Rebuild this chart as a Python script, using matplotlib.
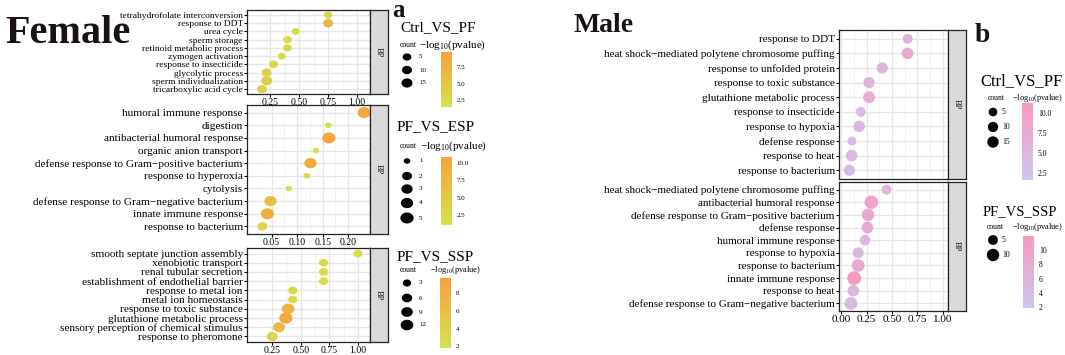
import numpy as np
import matplotlib.pyplot as plt
from matplotlib.colors import LinearSegmentedColormap, Normalize
from matplotlib.cm import ScalarMappable
from matplotlib.path import Path

plt.rcParams['font.family'] = ['Liberation Serif', 'DejaVu Serif']
plt.rcParams['mathtext.fontset'] = 'custom'
plt.rcParams['mathtext.rm'] = 'Liberation Serif'
plt.rcParams['axes.unicode_minus'] = True

W, H = 1065, 355

# ---------------- Female: Ctrl_VS_PF ----------------
f1_terms = ['tetrahydrofolate interconversion', 'response to DDT', 'urea cycle',
            'sperm storage', 'retinoid metabolic process', 'zymogen activation',
            'response to insecticide', 'glycolytic process',
            'sperm individualization', 'tricarboxylic acid cycle']
f1_ratio = [0.75, 0.75, 0.47, 0.40, 0.40, 0.35, 0.28, 0.22, 0.22, 0.18]
f1_count = [4, 10, 3, 5, 5, 3, 6, 10, 15, 9]
f1_logp = [2.5, 7.5, 2.5, 3.0, 3.0, 2.5, 3.0, 3.5, 4.0, 3.0]

# ---------------- Female: PF_VS_ESP ----------------
f2_terms = ['humoral immune response', 'digestion', 'antibacterial humoral response',
            'organic anion transport', 'defense response to Gram\u2212positive bacterium',
            'response to hyperoxia', 'cytolysis',
            'defense response to Gram\u2212negative bacterium', 'innate immune response',
            'response to bacterium']
f2_ratio = [0.231, 0.161, 0.162, 0.137, 0.126, 0.119, 0.084, 0.048, 0.042, 0.032]
f2_count = [5, 1, 5, 1, 4, 1, 1, 4, 5, 2]
f2_logp = [10.0, 2.0, 10.0, 2.0, 9.0, 2.0, 2.0, 6.5, 9.0, 3.5]

# ---------------- Female: PF_VS_SSP ----------------
f3_terms = ['smooth septate junction assembly', 'xenobiotic transport',
            'renal tubular secretion', 'establishment of endothelial barrier',
            'response to metal ion', 'metal ion homeostasis', 'response to toxic substance',
            'glutathione metabolic process', 'sensory perception of chemical stimulus',
            'response to pheromone']
f3_ratio = [1.0, 0.7, 0.7, 0.7, 0.43, 0.43, 0.39, 0.37, 0.31, 0.25]
f3_count = [4, 4, 4, 4, 4, 4, 12, 14, 10, 7]
f3_logp = [2.5, 3.0, 3.0, 3.0, 3.0, 3.0, 7.5, 9.0, 7.0, 3.5]

# ---------------- Male: Ctrl_VS_PF ----------------
m1_terms = ['response to DDT', 'heat shock\u2212mediated polytene chromosome puffing',
            'response to unfolded protein', 'response to toxic substance',
            'glutathione metabolic process', 'response to insecticide',
            'response to hypoxia', 'defense response', 'response to heat',
            'response to bacterium']
m1_ratio = [0.654, 0.654, 0.405, 0.275, 0.275, 0.194, 0.178, 0.107, 0.104, 0.081]
m1_count = [9, 16, 14, 14, 17, 9, 16, 6, 16, 14]
m1_logp = [6.0, 8.0, 5.5, 5.5, 7.0, 4.0, 5.0, 4.0, 4.5, 3.5]

# ---------------- Male: PF_VS_SSP ----------------
m2_terms = ['heat shock\u2212mediated polytene chromosome puffing',
            'antibacterial humoral response',
            'defense response to Gram\u2212positive bacterium', 'defense response',
            'humoral immune response', 'response to hypoxia', 'response to bacterium',
            'innate immune response', 'response to heat',
            'defense response to Gram\u2212negative bacterium']
m2_ratio = [0.447, 0.298, 0.265, 0.259, 0.236, 0.168, 0.168, 0.129, 0.120, 0.097]
m2_count = [5, 13, 10, 8, 6, 7, 11, 14, 8, 11]
m2_logp = [5.5, 10.0, 9.0, 8.5, 6.0, 5.0, 8.0, 11.5, 5.0, 4.0]

female_cmap = LinearSegmentedColormap.from_list('fem', ['#d4e24c', '#f9a13e'])
male_cmap = LinearSegmentedColormap.from_list('male', ['#cec4ee', '#f79ac1'])

# ellipse marker: the female half of the figure is stretched horizontally
t = np.linspace(0, 2 * np.pi, 60)
ell = Path(np.column_stack([1.2 * np.cos(t), np.sin(t)]), closed=True)


def px_axes(fig, left, top, right, bottom):
    return fig.add_axes([left / W, 1 - bottom / H, (right - left) / W, (bottom - top) / H])


def diam(count, lo, hi, k):
    c = np.clip((np.asarray(count, float) - lo) / (hi - lo), 0, None)
    return k * (3 + 3 * np.sqrt(c)) * 0.72   # points


def dot_panel(fig, box, terms, ratio, count, logp, xlim, xticks, xlabels,
              cmap, norm, scale, marker, lab_size, tick_size, show_x=True, strip_w=18):
    left, top, right, bottom = box
    ax = px_axes(fig, left, top, right, bottom)
    n = len(terms)
    y = np.arange(n)[::-1]
    ax.scatter(ratio, y, s=diam(count, *scale) ** 2, c=logp, cmap=cmap, norm=norm,
               marker=marker, linewidths=0, zorder=3)
    ax.set_ylim(-0.6, n - 0.4)
    ax.set_xlim(xlim)
    ax.set_yticks(y, terms, fontsize=lab_size)
    ax.set_xticks(xticks, xlabels, fontsize=tick_size)
    ax.set_xticks([(a + b) / 2 for a, b in zip(xticks[:-1], xticks[1:])], minor=True)
    ax.grid(which='major', color='#e6e6e6', lw=0.9)
    ax.grid(which='minor', axis='x', color='#efefef', lw=0.6)
    ax.set_axisbelow(True)
    ax.tick_params(length=2, width=0.8, pad=1, colors='black')
    ax.tick_params(which='minor', length=0)
    if not show_x:
        ax.tick_params(axis='x', length=0, labelbottom=False)
    for sp in ax.spines.values():
        sp.set_color('#222222')
        sp.set_linewidth(0.9)
    strip = px_axes(fig, right, top, right + strip_w, bottom)
    strip.set_facecolor('#d9d9d9')
    strip.set_xticks([])
    strip.set_yticks([])
    for sp in strip.spines.values():
        sp.set_color('#222222')
        sp.set_linewidth(0.9)
    strip.text(0.5, 0.5, 'BP', rotation=-90, ha='center', va='center',
               fontsize=6, color='#1a1a1a', transform=strip.transAxes)
    return ax


def size_legend(ov, breaks, cx, ys, lx, scale, marker, fs):
    ov.scatter([cx] * len(breaks), ys, s=diam(breaks, *scale) ** 2, c='black',
               marker=marker, linewidths=0)
    for b, yy in zip(breaks, ys):
        ov.text(lx, yy, str(b), fontsize=fs, va='center', ha='left')


def color_legend(fig, box, cmap, norm, ticks, labels, fs):
    cax = px_axes(fig, *box)
    cb = fig.colorbar(ScalarMappable(norm=norm, cmap=cmap), cax=cax)
    cb.outline.set_visible(False)
    cb.set_ticks(ticks, labels=labels)
    cax.tick_params(length=2, width=0.6, color='white', labelsize=fs, pad=1.5)
    return cb


fig = plt.figure(figsize=(W / 100, H / 100), dpi=100)
ov = fig.add_axes([0, 0, 1, 1])
ov.set_xlim(0, W)
ov.set_ylim(H, 0)
ov.axis('off')
ov.set_zorder(5)

# norms follow the colour bars in the picture
nf1 = Normalize(1.45, 9.8)
nf2 = Normalize(1.05, 10.9)
nf3 = Normalize(1.8, 9.7)
nm1 = Normalize(1.6, 11.25)
nm2 = Normalize(1.85, 12.0)

sf1 = (0, 16, 1.86)
sf2 = (1, 5, 2.2)
sf3 = (2, 14, 2.2)
sm1 = (2, 18, 2.0)
sm2 = (3, 14, 2.3)

q = [0.25, 0.50, 0.75, 1.00]
ql = ['0.25', '0.50', '0.75', '1.00']
dot_panel(fig, (247, 10, 370, 94), f1_terms, f1_ratio, f1_count, f1_logp,
          (0.052, 1.11), q, ql, female_cmap, nf1, sf1, ell, 6.8, 7)
dot_panel(fig, (247, 105, 370, 234), f2_terms, f2_ratio, f2_count, f2_logp,
          (0.002, 0.2425), [0.05, 0.10, 0.15, 0.20], ['0.05', '0.10', '0.15', '0.20'],
          female_cmap, nf2, sf2, ell, 8.1, 7)
dot_panel(fig, (247, 248, 370, 342), f3_terms, f3_ratio, f3_count, f3_logp,
          (0.03, 1.106), q, ql, female_cmap, nf3, sf3, ell, 8.1, 7)

m = [0.0, 0.25, 0.50, 0.75, 1.00]
ml = ['0.00', '0.25', '0.50', '0.75', '1.00']
dot_panel(fig, (839, 30, 948, 179), m1_terms, m1_ratio, m1_count, m1_logp,
          (-0.02, 1.05), m, ml, male_cmap, nm1, sm1, 'o', 8, 8, show_x=False)
dot_panel(fig, (839, 182, 948, 311), m2_terms, m2_ratio, m2_count, m2_logp,
          (-0.02, 1.05), m, ml, male_cmap, nm2, sm2, 'o', 8, 8)

# panel titles
ov.text(5, 43, 'Female', fontsize=29, fontweight='bold', va='baseline', color='#1a1212')
ov.text(392, 17, 'a', fontsize=18, fontweight='bold', va='baseline', color='#1a1212')
ov.text(573, 32, 'Male', fontsize=20, fontweight='bold', va='baseline', color='#1a1212')
ov.text(975, 42, 'b', fontsize=20, fontweight='bold', va='baseline', color='#1a1212')

logp_lab = r'$\mathregular{-log_{10}}$(pvalue)'

# female legends
ov.text(400, 28, 'Ctrl_VS_PF', fontsize=11, va='center')
ov.text(400, 45, 'count', fontsize=5.5, va='center')
ov.text(419, 45, logp_lab, fontsize=8, va='center')
size_legend(ov, [5, 10, 15], 407, [57, 70, 83], 419, sf1, ell, 5)
color_legend(fig, (441, 52, 452, 107), female_cmap, nf1, [2.5, 5.0, 7.5],
             ['2.5', '5.0', '7.5'], 5)

ov.text(397, 127, 'PF_VS_ESP', fontsize=11, va='center')
ov.text(400, 146, 'count', fontsize=5.5, va='center')
ov.text(420, 146, logp_lab, fontsize=8, va='center')
size_legend(ov, [1, 2, 3, 4, 5], 407, [161, 176, 189, 203, 218], 419, sf2, ell, 5)
color_legend(fig, (441, 157, 452, 225), female_cmap, nf2, [2.5, 5.0, 7.5, 10.0],
             ['2.5', '5.0', '7.5', '10.0'], 5)

ov.text(397, 257, 'PF_VS_SSP', fontsize=11, va='center')
ov.text(400, 270, 'count', fontsize=5.5, va='center')
ov.text(430, 270, logp_lab, fontsize=6, va='center')
size_legend(ov, [3, 6, 9, 12], 407, [283, 298, 312, 325], 419, sf3, ell, 5)
color_legend(fig, (440, 278, 451, 348), female_cmap, nf3, [2, 4, 6, 8],
             ['2', '4', '6', '8'], 5)

# male legends
ov.text(980, 81, 'Ctrl_VS_PF', fontsize=12, va='center')
ov.text(988, 98, 'count', fontsize=5.5, va='center')
ov.text(1012, 98, logp_lab, fontsize=6, va='center')
size_legend(ov, [5, 10, 15], 993, [112, 127, 142], 1002, sm1, 'o', 5.5)
color_legend(fig, (1022, 103, 1033, 180), male_cmap, nm1, [2.5, 5.0, 7.5, 10.0],
             ['2.5', '5.0', '7.5', '10.0'], 5.5)

ov.text(983, 212, 'PF_VS_SSP', fontsize=10.5, va='center')
ov.text(987, 227, 'count', fontsize=5.5, va='center')
ov.text(1012, 227, logp_lab, fontsize=6, va='center')
size_legend(ov, [5, 10], 993, [240, 255], 1002, sm2, 'o', 5.5)
color_legend(fig, (1023, 236, 1034, 308), male_cmap, nm2, [2, 4, 6, 8, 10],
             ['2', '4', '6', '8', '10'], 5.5)

fig.savefig('out.png', dpi=100)
